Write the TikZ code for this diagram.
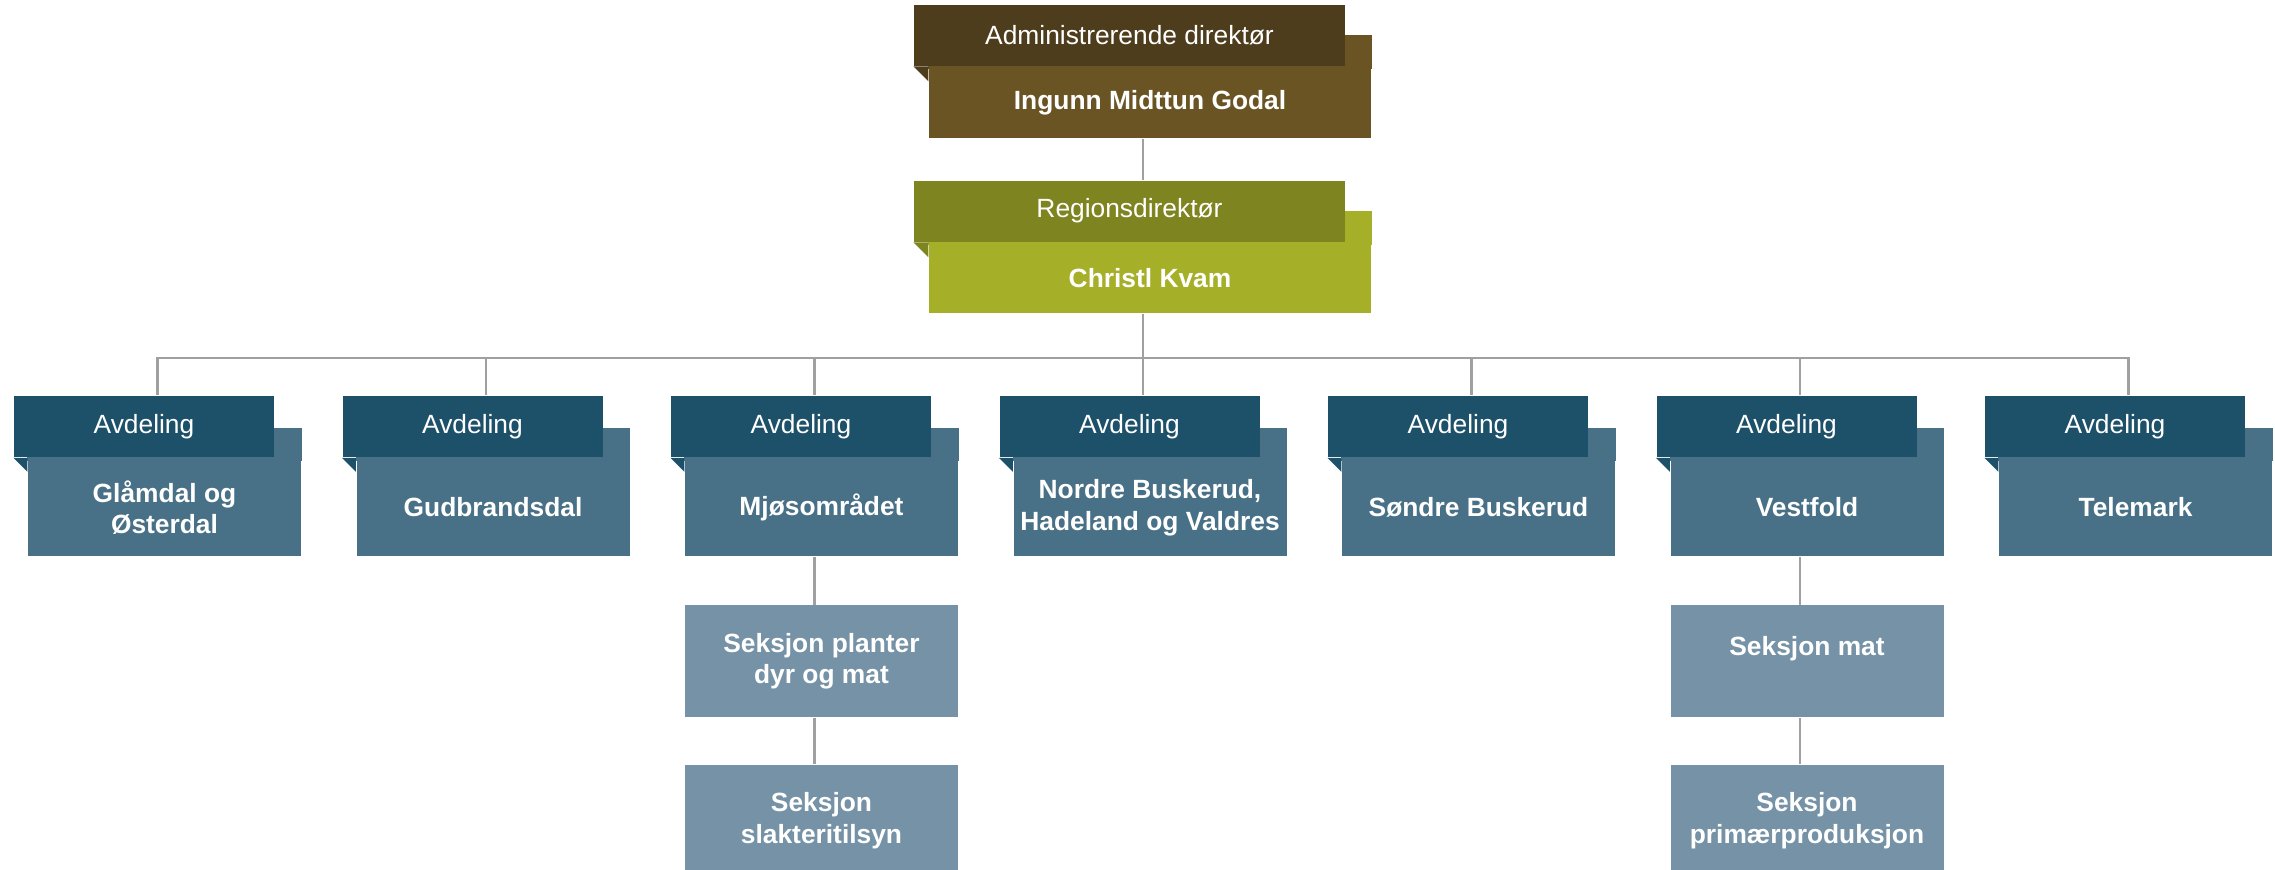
\documentclass[tikz,border=0pt]{standalone}
\usepackage{fontspec}
\setmainfont{Liberation Sans}
\usepackage{tikz}
\usepackage{xcolor}
\usetikzlibrary{positioning}
\definecolor{admtop}{RGB}{78,61,28}
\definecolor{admbox}{RGB}{106,84,36}
\definecolor{regtop}{RGB}{126,132,31}
\definecolor{regbox}{RGB}{166,175,40}
\definecolor{avdtop}{RGB}{29,80,105}
\definecolor{avdbox}{RGB}{72,113,135}
\definecolor{seksbox}{RGB}{117,146,166}
\definecolor{linegray}{RGB}{160,160,160}
\tikzset{
	ttl/.style={rectangle, inner sep=0pt, minimum height=0.61cm, text=white, font=\fontsize{7.5}{9}\selectfont},
	nme/.style={rectangle, inner sep=0pt, text=white, align=center, font=\bfseries\fontsize{7.5}{9}\selectfont},
	avdt/.style={ttl, fill=avdtop, minimum width=2.6cm},
	avdn/.style={nme, fill=avdbox, minimum width=2.73cm, minimum height=0.98cm},
	seks/.style={nme, fill=seksbox, minimum width=2.73cm, minimum height=1.12cm},
	link/.style={draw=linegray, line width=0.6pt}
}

\begin{document}
\begin{tikzpicture}
		\useasboundingbox (0,0) rectangle (22.75,8.69);
		\node[nme, fill=admbox, minimum width=4.42cm, minimum height=0.71cm] (adn) at (11.5,7.665) {Ingunn Midttun Godal};
		\fill[admbox] ([yshift=-0.3mm]adn.north west) rectangle ([yshift=3.1mm]adn.north east);
		\node[ttl, fill=admtop, minimum width=4.31cm, above=0cm of adn, xshift=-2.05mm] (adt) {Administrerende direktør};
		\fill[admtop] (adt.south west) -- (adn.north west) -- ([yshift=-1.5mm]adn.north west) -- cycle;
		\node[nme, fill=regbox, minimum width=4.42cm, minimum height=0.7cm] (rdn) at (11.5,5.91) {Christl Kvam};
		\fill[regbox] ([yshift=-0.3mm]rdn.north west) rectangle ([yshift=3.1mm]rdn.north east);
		\node[ttl, fill=regtop, minimum width=4.31cm, above=0cm of rdn, xshift=-2.05mm] (rdt) {Regionsdirektør};
		\fill[regtop] (rdt.south west) -- (rdn.north west) -- ([yshift=-1.5mm]rdn.north west) -- cycle;
		\node[avdn] (a1n) at (1.645,3.615) {Glåmdal og\\Østerdal};
		\fill[avdbox] ([yshift=-0.3mm]a1n.north west) rectangle ([yshift=3mm]a1n.north east);
		\node[avdt, above=0cm of a1n, xshift=-2.05mm] (a1t) {Avdeling};
		\fill[avdtop] (a1t.south west) -- (a1n.north west) -- ([yshift=-1.4mm]a1n.north west) -- cycle;
		\node[avdn] (a2n) at (4.93,3.615) {Gudbrandsdal};
		\fill[avdbox] ([yshift=-0.3mm]a2n.north west) rectangle ([yshift=3mm]a2n.north east);
		\node[avdt, above=0cm of a2n, xshift=-2.05mm] (a2t) {Avdeling};
		\fill[avdtop] (a2t.south west) -- (a2n.north west) -- ([yshift=-1.4mm]a2n.north west) -- cycle;
		\node[avdn] (a3n) at (8.215,3.615) {Mjøsområdet};
		\fill[avdbox] ([yshift=-0.3mm]a3n.north west) rectangle ([yshift=3mm]a3n.north east);
		\node[avdt, above=0cm of a3n, xshift=-2.05mm] (a3t) {Avdeling};
		\fill[avdtop] (a3t.south west) -- (a3n.north west) -- ([yshift=-1.4mm]a3n.north west) -- cycle;
		\node[avdn] (a4n) at (11.5,3.615) {Nordre Buskerud,\\Hadeland og Valdres};
		\fill[avdbox] ([yshift=-0.3mm]a4n.north west) rectangle ([yshift=3mm]a4n.north east);
		\node[avdt, above=0cm of a4n, xshift=-2.05mm] (a4t) {Avdeling};
		\fill[avdtop] (a4t.south west) -- (a4n.north west) -- ([yshift=-1.4mm]a4n.north west) -- cycle;
		\node[avdn] (a5n) at (14.785,3.615) {Søndre Buskerud};
		\fill[avdbox] ([yshift=-0.3mm]a5n.north west) rectangle ([yshift=3mm]a5n.north east);
		\node[avdt, above=0cm of a5n, xshift=-2.05mm] (a5t) {Avdeling};
		\fill[avdtop] (a5t.south west) -- (a5n.north west) -- ([yshift=-1.4mm]a5n.north west) -- cycle;
		\node[avdn] (a6n) at (18.07,3.615) {Vestfold};
		\fill[avdbox] ([yshift=-0.3mm]a6n.north west) rectangle ([yshift=3mm]a6n.north east);
		\node[avdt, above=0cm of a6n, xshift=-2.05mm] (a6t) {Avdeling};
		\fill[avdtop] (a6t.south west) -- (a6n.north west) -- ([yshift=-1.4mm]a6n.north west) -- cycle;
		\node[avdn] (a7n) at (21.355,3.615) {Telemark};
		\fill[avdbox] ([yshift=-0.3mm]a7n.north west) rectangle ([yshift=3mm]a7n.north east);
		\node[avdt, above=0cm of a7n, xshift=-2.05mm] (a7t) {Avdeling};
		\fill[avdtop] (a7t.south west) -- (a7n.north west) -- ([yshift=-1.4mm]a7n.north west) -- cycle;
		\node[seks, below=0.475cm of a3n] (s1) {Seksjon planter\\dyr og mat};
		\node[seks, below=0.46cm of s1] (s2) {Seksjon\\slakteritilsyn};
		\node[seks, below=0.475cm of a6n] (s3) {Seksjon mat\\\mbox{}};
		\node[seks, below=0.46cm of s3] (s4) {Seksjon\\primærproduksjon};
		\coordinate[below=0.44cm of rdn.south, xshift=-0.7mm] (bus);
		\draw[link] ([xshift=-0.7mm]adn.south) -- ([xshift=1.35mm]rdt.north);
		\draw[link] ([xshift=-0.7mm]rdn.south) -- (bus);
		\draw[link] (bus) -| ([xshift=1.35mm]a1t.north);
		\draw[link] (bus) -| ([xshift=1.35mm]a2t.north);
		\draw[link] (bus) -| ([xshift=1.35mm]a3t.north);
		\draw[link] (bus) -| ([xshift=1.35mm]a4t.north);
		\draw[link] (bus) -| ([xshift=1.35mm]a5t.north);
		\draw[link] (bus) -| ([xshift=1.35mm]a6t.north);
		\draw[link] (bus) -| ([xshift=1.35mm]a7t.north);
		\draw[link] ([xshift=-0.7mm]a3n.south) -- ([xshift=-0.7mm]s1.north);
		\draw[link] ([xshift=-0.7mm]s1.south) -- ([xshift=-0.7mm]s2.north);
		\draw[link] ([xshift=-0.7mm]a6n.south) -- ([xshift=-0.7mm]s3.north);
		\draw[link] ([xshift=-0.7mm]s3.south) -- ([xshift=-0.7mm]s4.north);
\end{tikzpicture}
\end{document}
